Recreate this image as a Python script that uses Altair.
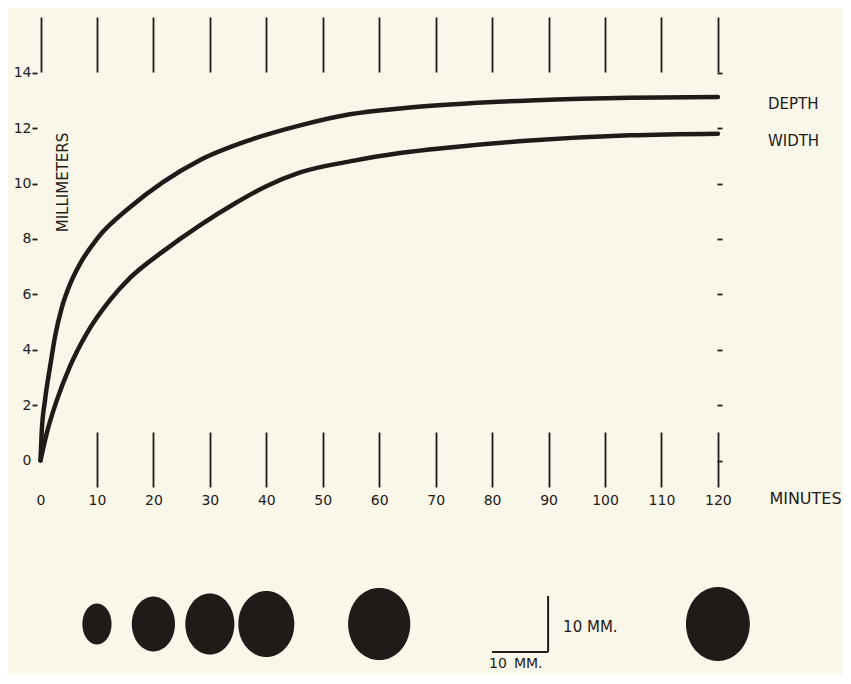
import altair as alt
import numpy as np
import pandas as pd

# ---------------- data ----------------
depth_time = [0, 0.2, 0.8, 1.7, 2.6, 3.75, 5.2, 7.0, 10.0, 15.9, 21.7, 28.3, 37.1, 46.0, 54.8, 63.7, 72.5, 86.7, 104.4, 120]
depth_mm = [0, 0.98, 2.18, 3.39, 4.5, 5.5, 6.35, 7.1, 8.0, 9.15, 10.05, 10.85, 11.57, 12.1, 12.5, 12.71, 12.85, 13.0, 13.1, 13.12]

width_time = [0, 1.1, 2.9, 5.2, 8.2, 12.3, 15.9, 21.7, 28.3, 34.2, 40.0, 46.0, 54.8, 63.7, 72.5, 86.7, 104.4, 120]
width_mm = [0, 0.98, 2.18, 3.39, 4.59, 5.79, 6.6, 7.55, 8.5, 9.25, 9.9, 10.4, 10.8, 11.1, 11.3, 11.55, 11.74, 11.8]

x_ticks = [0, 10, 20, 30, 40, 50, 60, 70, 80, 90, 100, 110, 120]
y_ticks = [0, 2, 4, 6, 8, 10, 12, 14]

# outlines drawn below the graph: lesion width x depth at given times (mm)
ellipse_time = [10, 20, 30, 40, 60, 120]
ellipse_width_mm = [5.2, 7.7, 8.75, 10.0, 11.1, 11.4]
ellipse_depth_mm = [7.3, 9.8, 10.9, 11.8, 12.9, 13.2]
scale_bar_mm = 10
scale_bar_start_min = 80

# ---------------- layout / style ----------------
INK = "#1f1b19"
BG = "#f9f6ea"
FONT = "DejaVu Sans"
W, H = 835, 666
MARGIN = 8
X0_PAGE, PX_PER_MIN = 40.5, 5.645     # page x of t=0, px per minute
Y0_PAGE, PX_PER_MM = 460.5, 27.7      # page y of 0 mm, px per mm
E_Y_PAGE, E_PX_PER_MM = 624, 5.6      # drawing row of the outlines
mm_to_min = E_PX_PER_MM / PX_PER_MIN

x_dom = [(MARGIN - X0_PAGE) / PX_PER_MIN, (MARGIN + W - X0_PAGE) / PX_PER_MIN]
y_dom = [(Y0_PAGE - MARGIN - H) / PX_PER_MM, (Y0_PAGE - MARGIN) / PX_PER_MM]
e_dom = [(E_Y_PAGE - MARGIN - H) / E_PX_PER_MM, (E_Y_PAGE - MARGIN) / E_PX_PER_MM]

xs = alt.Scale(domain=x_dom, nice=False, zero=False)
ys = alt.Scale(domain=y_dom, nice=False, zero=False)
es = alt.Scale(domain=e_dom, nice=False, zero=False)

hide_zero = {"condition": {"test": "datum.value == 0", "value": 0}, "value": 1}

# ---------------- tables ----------------
curves = pd.concat([
    pd.DataFrame({"series": "DEPTH", "t": depth_time, "mm": depth_mm}),
    pd.DataFrame({"series": "WIDTH", "t": width_time, "mm": width_mm}),
])
ends = pd.DataFrame({
    "series": ["DEPTH", "WIDTH"],
    "t": [depth_time[-1], width_time[-1]],
    "mm": [depth_mm[-1], width_mm[-1]],
})

rows = []
theta = np.linspace(0, np.pi, 73)
for i, (t, w, d) in enumerate(zip(ellipse_time, ellipse_width_mm, ellipse_depth_mm)):
    for th in theta:
        rows.append({"id": i,
                     "x": t - (w / 2) * mm_to_min * np.cos(th),
                     "yh": (d / 2) * np.sin(th),
                     "yl": -(d / 2) * np.sin(th)})
ell = pd.DataFrame(rows)

sb_end = scale_bar_start_min + scale_bar_mm * mm_to_min
half = scale_bar_mm / 2
bars = pd.DataFrame({
    "x1": [scale_bar_start_min, sb_end],
    "x2": [sb_end, sb_end],
    "y1": [-half, -half],
    "y2": [-half, half],
})
bar_text = pd.DataFrame({
    "x": [sb_end, scale_bar_start_min],
    "y": [0, -half],
    "label": ["10 MM.", "10\u2002MM."],
})

# ---------------- axes ----------------
x_axis = alt.Axis(
    orient="bottom", offset=432 - (MARGIN + H), values=x_ticks, domain=False, grid=False,
    tickSize=55, tickWidth=1.8, tickColor=INK, tickOpacity=hide_zero,
    labelFont=FONT, labelFontSize=14, labelColor=INK, labelPadding=6,
    labelFlush=False, labelOverlap=False,
    title="MINUTES", titleX=805 - MARGIN, titleY=498 - 432, titleAngle=0,
    titleAlign="center", titleBaseline="middle", titleFont=FONT, titleFontSize=16,
    titleFontWeight="normal", titleColor=INK,
)
y_axis = alt.Axis(
    orient="left", offset=-(37 - MARGIN), values=y_ticks, domain=False, grid=False,
    tickSize=5, tickWidth=1.8, tickColor=INK, tickOpacity=hide_zero,
    labelFont=FONT, labelFontSize=14, labelColor=INK, labelPadding=1, labelOverlap=False,
    title="MILLIMETERS", titleX=62 - 37, titleY=182 - MARGIN, titleAngle=270,
    titleAlign="center", titleBaseline="middle", titleFont=FONT, titleFontSize=15,
    titleFontWeight="normal", titleColor=INK,
)
top_axis = alt.Axis(
    orient="top", offset=-(72 - MARGIN), values=x_ticks, domain=False, grid=False,
    tickSize=55, tickWidth=1.8, tickColor=INK, labels=False, title=None,
)
right_axis = alt.Axis(
    orient="right", offset=717 - (MARGIN + W), values=y_ticks, domain=False, grid=False,
    tickSize=5, tickWidth=1.8, tickColor=INK, labels=False, title=None,
)

# ---------------- layers ----------------
lines = alt.Chart(curves).mark_line(
    color=INK, strokeWidth=4.5, interpolate="monotone", strokeCap="round"
).encode(
    x=alt.X("t:Q", scale=xs, axis=x_axis),
    y=alt.Y("mm:Q", scale=ys, axis=y_axis),
    detail="series:N",
)
line_labels = alt.Chart(ends).mark_text(
    align="left", baseline="middle", dx=50, dy=7, font=FONT, fontSize=15, color=INK
).encode(
    x=alt.X("t:Q", scale=xs, axis=x_axis),
    y=alt.Y("mm:Q", scale=ys, axis=y_axis),
    text="series:N",
)
main = alt.layer(lines, line_labels)

ovals = alt.Chart(ell).mark_area(color=INK, orient="vertical", interpolate="linear").encode(
    x=alt.X("x:Q", scale=xs, axis=None),
    y=alt.Y("yh:Q", scale=es, axis=None),
    y2="yl:Q",
    detail="id:N",
)
bar_rules = alt.Chart(bars).mark_rule(color=INK, strokeWidth=2).encode(
    x=alt.X("x1:Q", scale=xs, axis=None),
    x2="x2:Q",
    y=alt.Y("y1:Q", scale=es, axis=None),
    y2="y2:Q",
)
bar_labels_right = alt.Chart(bar_text.iloc[[0]]).mark_text(
    align="left", baseline="middle", dx=15, dy=3, font=FONT, fontSize=15, color=INK
).encode(
    x=alt.X("x:Q", scale=xs, axis=None),
    y=alt.Y("y:Q", scale=es, axis=None),
    text="label:N",
)
bar_labels_bottom = alt.Chart(bar_text.iloc[[1]]).mark_text(
    align="left", baseline="middle", dx=-3, dy=12, font=FONT, fontSize=14, color=INK
).encode(
    x=alt.X("x:Q", scale=xs, axis=None),
    y=alt.Y("y:Q", scale=es, axis=None),
    text="label:N",
)
outlines = alt.layer(ovals, bar_rules, bar_labels_right, bar_labels_bottom)

top_frame = alt.Chart(pd.DataFrame({"t": x_ticks})).mark_point(opacity=0).encode(
    x=alt.X("t:Q", scale=xs, axis=top_axis),
    y=alt.Y("datum_y:Q", scale=ys, axis=None),
).transform_calculate(datum_y="0")
right_frame = alt.Chart(pd.DataFrame({"mm": y_ticks})).mark_point(opacity=0).encode(
    x=alt.X("datum_x:Q", scale=xs, axis=None),
    y=alt.Y("mm:Q", scale=ys, axis=right_axis),
).transform_calculate(datum_x="120")

chart = alt.layer(main, outlines, top_frame, right_frame).resolve_scale(
    x="independent", y="independent"
).properties(
    width=W, height=H, autosize=alt.AutoSizeParams(type="none"), padding=0, background=BG
).configure_view(stroke=None)

chart.save("out.html", embed_options={"renderer": "svg", "actions": False})
